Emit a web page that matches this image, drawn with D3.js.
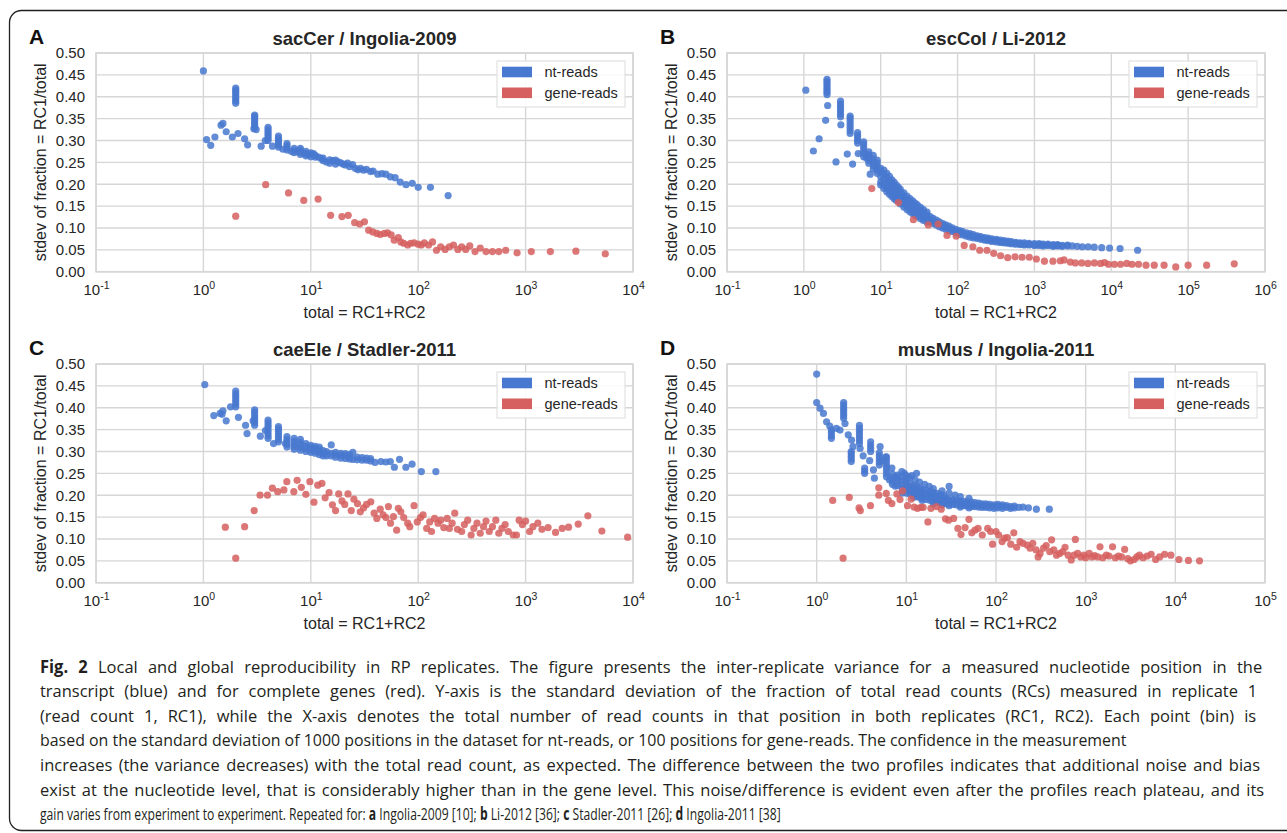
<!DOCTYPE html>
<html><head><meta charset="utf-8">
<script src="https://cdn.jsdelivr.net/npm/d3@7"></script>
<style>body{margin:0;background:#fff;} svg{display:block;}</style>
</head><body><svg id="fig" width="1287" height="833"></svg>
<script>
// ---------------- DATA ----------------
const panelLetters = ["A", "B", "C", "D"];
const panelTitles = ["sacCer / Ingolia-2009", "escCol / Li-2012", "caeEle / Stadler-2011", "musMus / Ingolia-2011"];
const xMaxExp = [4, 6, 4, 5];
const yTicks = [0, 0.05, 0.10, 0.15, 0.20, 0.25, 0.30, 0.35, 0.40, 0.45, 0.50];
const seriesNames = ["nt-reads", "gene-reads"];
const yLabel = "stdev of fraction = RC1/total";
const xLabel = "total = RC1+RC2";

const aNt = [[1.0,.459],[1.07,.302],[1.17,.289],[1.28,.308],[1.46,.335],[1.52,.339],[1.63,.32],[1.86,.308],
[2,.385],[2,.39],[2,.395],[2,.40],[2,.405],[2,.41],[2,.415],[2,.42],
[2.1,.316],[2.42,.304],[2.58,.29],
[3,.33],[3,.335],[3,.34],[3,.345],[3,.35],[3,.355],[3,.358],[2.95,.327],[3.1,.325],
[3.45,.287],[3.77,.30],
[4,.30],[4,.305],[4,.31],[4,.315],[4,.32],[4,.325],[4,.33],[4.4,.287],
[5,.285],[5,.29],[5,.295],[5,.30],[5,.305],[5,.31],[5.5,.28],
[6,.278],[6,.283],[6,.288],[6,.293],[6.6,.275],
[7,.272],[7,.277],[7,.282],[7.5,.275],
[8,.268],[8,.273],[8,.278],[8,.282],[8.7,.27],
[9,.265],[9,.27],[9,.275],[9.5,.268],
[10,.263],[10,.268],[10,.272],[10.6,.27],[11,.262],[11,.266],[11.8,.262],[12.5,.259],[13,.254],[13,.26],[14,.251],
[15,.256],[15,.248],[16,.254],[17,.255],[17,.246],[18,.251],[19,.249],[20,.246],[21,.244],[22,.248],[23,.24],
[24.5,.245],[26,.236],[27.5,.233],[29,.236],[31,.232],[33,.234],[36,.229],[38,.23],[42,.223],[46,.224],[50,.223],
[55,.217],[61,.215],[68,.205],[77,.199],[88,.202],[100,.193],[130,.193],[190,.174]];
const aGene = [[2,.127],[3.8,.199],[6.2,.18],[8.6,.163],[11.7,.166],[15.3,.129],[19.5,.126],[22.3,.129],[25.6,.112],
[28.5,.109],[31.6,.114],[34.6,.095],[37.8,.091],[41.2,.0875],[44.3,.085],[48.4,.0875],[51.9,.089],[56,.084],[59.8,.072],
[65.3,.078],[68.9,.068],[73.3,.065],[79.8,.061],[85,.065],[91.5,.066],[100,.063],[107,.061],[114,.066],[125,.061],
[136,.068],[148,.049],[162,.057],[178,.051],[195,.057],[213,.061],[234,.051],[254,.057],[277,.051],[302,.059],
[338,.046],[378,.054],[428,.046],[491,.046],[563,.046],[653,.049],[833,.043],[1130,.046],[1700,.046],[2940,.047],[5520,.041]];

const bNt = [[1.06,.415],[1.33,.276],[1.58,.304],[1.92,.346],
[2,.405],[2,.41],[2,.415],[2,.42],[2,.425],[2,.43],[2,.435],[2,.44],[2.04,.38],[2.62,.251],
[3,.354],[3,.36],[3,.366],[3,.372],[3,.378],[3,.384],[3,.39],[3.03,.336],[3.67,.269],
[4,.316],[4,.323],[4,.33],[4,.337],[4,.344],[4,.351],[4,.356],[4.31,.246],
[5,.294],[5,.30],[5,.306],[5,.312],[5,.318],[5.1,.27],
[6,.263],[6,.27],[6,.277],[6,.284],[6,.291],[6,.297],[6.5,.26],
[7,.248],[7,.255],[7,.262],[7,.268],[7,.274],[7.3,.223],
[8,.235],[8,.242],[8,.25],[8,.258],[8,.266],
[9,.225],[9,.232],[9,.24],[9,.248],[9,.255],
[10,.217],[10,.205],[10,.228],[10,.236],[10,.198],[11,.21],[11,.198],[11,.222],[11,.232],[11,.19],
[12,.203],[12,.192],[12,.214],[12,.225],[12,.183],[13,.196],[13,.186],[13,.207],[13,.218],[13,.177],
[14,.19],[14,.18],[14,.2],[14,.21],[14,.172],[15,.185],[15,.175],[15,.195],[15,.204],[15,.167],
[16,.18],[16,.17],[16,.19],[16,.198],[16,.163],[17,.175],[17,.166],[17,.185],[17,.193],
[18,.17],[18,.162],[18,.18],[18,.188],[18,.155],[19,.167],[19,.158],[19,.176],[20,.163],[20,.155],[20,.172],[20,.18],[20,.148],
[22,.157],[22,.149],[22,.166],[22,.173],[22,.142],[24,.152],[24,.144],[24,.16],[24,.167],[24,.137],
[26,.147],[26,.14],[26,.155],[26,.162],[26,.133],[28,.143],[28,.136],[28,.151],[28,.157],[28,.129],
[30,.139],[30,.132],[30,.147],[30,.153],[30,.126],[33,.134],[33,.127],[33,.141],[33,.147],[33,.121],
[36,.129],[36,.123],[36,.136],[36,.142],[36,.117],[40,.124],[40,.118],[40,.13],[40,.136],[40,.113],
[44,.12],[44,.114],[44,.126],[48,.116],[48,.11],[48,.122],[53,.112],[53,.107],[53,.118],[58,.108],[58,.103],[58,.114],
[64,.105],[64,.1],[64,.11],[70,.102],[70,.097],[70,.107],[77,.099],[77,.094],[77,.104],[85,.096],[85,.092],[85,.1],
[95,.093],[95,.089],[95,.097],[105,.09],[105,.086],[105,.094],[115,.088],[115,.084],[115,.092],[130,.085],[130,.081],[130,.089],
[145,.083],[145,.079],[145,.087],[160,.081],[160,.077],[160,.085],[180,.079],[180,.076],[180,.082],[200,.077],[200,.074],[200,.08],
[225,.075],[225,.072],[225,.078],[250,.074],[250,.071],[250,.077],[280,.072],[280,.069],[280,.075],[320,.071],[320,.068],[320,.074],
[360,.069],[360,.067],[360,.072],[400,.068],[400,.066],[400,.071],[450,.067],[450,.065],[450,.07],[500,.066],[500,.064],[500,.069],
[570,.065],[570,.063],[570,.067],[650,.064],[650,.062],[650,.066],[740,.063],[740,.061],[740,.066],[850,.063],[850,.061],[850,.065],
[1000,.062],[1000,.06],[1000,.064],[1150,.062],[1150,.06],[1150,.064],[1300,.061],[1300,.059],[1300,.063],[1500,.061],[1500,.06],[1500,.063],
[1750,.06],[1750,.058],[1750,.062],[2000,.06],[2000,.059],[2000,.062],[2300,.06],[2300,.058],[2700,.059],[2700,.061],[3100,.059],
[3600,.058],[4200,.057],[5000,.057],[6000,.056],[7500,.055],[9500,.054],[13000,.053],[22000,.049]];
const bGene = [[7.65,.19],[17,.158],[26.6,.119],[41.5,.107],[56,.109],[72.9,.083],[96,.081],[122,.06],[158,.057],[194,.049],
[241,.049],[295,.042],[363,.0365],[449,.032],[558,.034],[690,.033],[857,.033],[1060,.029],[1350,.024],[1740,.024],[2170,.025],
[2430,.027],[2930,.022],[3410,.02],[4120,.02],[4970,.019],[6030,.02],[7250,.019],[8170,.021],[9200,.017],[11000,.017],[13200,.017],
[15900,.019],[18600,.017],[22600,.017],[28300,.015],[36200,.015],[48600,.015],[69000,.011],[100000,.015],[174000,.015],[398000,.018]];

const cNt = [[1.03,.453],[1.25,.382],[1.43,.387],[1.49,.385],[1.52,.393],[1.63,.37],[1.79,.402],
[2,.402],[2,.408],[2,.414],[2,.42],[2,.426],[2,.432],[2,.438],[2.12,.378],[2.47,.36],[2.55,.341],
[3,.36],[3,.366],[3,.372],[3,.378],[3,.384],[3,.39],[3,.395],[2.9,.37],[3.39,.335],[3.78,.348],
[4,.33],[4,.336],[4,.342],[4,.348],[4,.354],[4,.36],[4,.366],[4,.372],[4.5,.318],
[5,.322],[5,.328],[5,.334],[5,.34],[5,.346],[5,.352],[5,.357],[5.8,.318],
[6,.31],[6,.316],[6,.322],[6,.328],[6,.334],[7,.305],[7,.311],[7,.317],[7,.323],[7,.33],
[8,.303],[8,.309],[8,.315],[8,.321],[8,.328],[9,.3],[9,.306],[9,.312],[9,.318],
[10,.298],[10,.303],[10,.309],[10,.314],[11,.296],[11,.301],[11,.307],[11,.312],[12,.293],[12,.299],[12,.305],[12,.31],
[13,.29],[13,.296],[13,.302],[14,.29],[14,.295],[14,.3],[15.5,.315],[15.5,.296],[15.5,.29],[17,.287],[17,.293],[17,.298],
[19,.285],[19,.291],[19,.296],[21,.284],[21,.29],[21,.295],[23,.283],[23,.288],[23,.293],[24.6,.298],[24.6,.282],
[27,.281],[27,.287],[30,.28],[30,.286],[33,.28],[33,.285],[36,.278],[36,.284],[39.6,.275],[45,.277],[50,.276],[55,.277],
[60,.264],[67,.282],[76.8,.264],[87.7,.271],[107,.254],[146,.254]];
const cGene = [[1.6,.127],[2,.056],[2.42,.128],[2.97,.165],[3.37,.2],[3.95,.2],[4.39,.216],[4.92,.208],[5.62,.212],[5.98,.231],
[6.95,.208],[7.46,.234],[8.16,.218],[9,.202],[9.8,.231],[10.7,.184],[11.6,.223],[12.7,.227],[13.6,.194],[14.8,.206],[15.9,.178],
[17,.165],[18.2,.203],[19.5,.187],[20.7,.179],[22.2,.203],[23.8,.165],[25.2,.191],[27.2,.181],[28.9,.162],[31,.171],[33,.179],
[36.2,.185],[38.9,.159],[41.2,.147],[44.3,.168],[47.1,.155],[50.1,.149],[52.8,.174],[55.2,.136],[58.8,.151],[63,.12],[65.3,.17],
[68.9,.162],[73.3,.149],[79.8,.136],[83.5,.128],[91.5,.176],[98,.139],[105,.149],[111,.155],[120,.124],[128,.139],[133,.117],
[142,.147],[153,.136],[162,.143],[173,.126],[186,.147],[195,.124],[207,.136],[219,.159],[232,.122],[254,.117],[269,.133],[289,.143],
[311,.109],[330,.124],[353,.136],[378,.113],[406,.128],[428,.141],[459,.117],[491,.128],[528,.143],[563,.113],[602,.124],[645,.133],
[690,.117],[767,.109],[823,.109],[871,.143],[933,.133],[1000,.141],[1090,.117],[1170,.128],[1300,.136],[1420,.122],[1620,.126],
[1900,.115],[2190,.124],[2510,.127],[3090,.134],[3800,.153],[5130,.118],[8910,.104]];

const dNt = [[1.0,.477],[1.0,.412],[1.09,.399],[1.19,.387],[1.29,.368],[1.4,.358],[1.46,.349],[1.46,.343],[1.46,.336],[1.46,.33],
[1.66,.353],[1.82,.349],[2,.376],[2,.382],[2,.388],[2,.394],[2,.4],[2,.406],[2,.412],[2.07,.364],[2.25,.338],[2.45,.326],
[2.43,.277],[2.43,.283],[2.43,.289],[2.43,.295],[2.43,.3],[2.54,.311],
[3,.318],[3,.325],[3,.332],[3,.339],[3,.346],[3,.353],[3,.36],[3.05,.307],[3.3,.29],[3.43,.25],[3.43,.256],[3.43,.262],
[4,.3],[4,.307],[4,.314],[4,.322],[3.9,.279],[4.3,.258],[4.4,.239],
[5,.269],[5,.276],[5,.283],[5,.29],[5,.297],[5.1,.311],[5.4,.279],[5.9,.287],
[6,.242],[6,.25],[6,.258],[6,.265],[6,.272],[6,.28],[6,.288],[6.5,.235],[6.9,.262],[7,.225],[7,.232],[7,.24],[7,.248],[7.5,.221],[7.8,.242],
[8,.23],[8,.238],[8,.246],[8,.222],[8.9,.254],[9,.215],[9,.224],[9,.233],[9,.241],[9,.205],[9.5,.25],
[10,.205],[10,.212],[10,.22],[10,.228],[10,.236],[10,.245],[11,.203],[11,.21],[11,.218],[11,.226],[11,.24],[11.5,.245],
[12,.2],[12,.207],[12,.215],[12,.222],[12,.195],[12.5,.235],[13,.197],[13,.205],[13,.212],[13,.25],[13,.22],
[14,.195],[14,.202],[14,.209],[14,.216],[14,.23],[15,.193],[15,.2],[15,.207],[15,.214],[15,.188],
[16,.225],[16.8,.19],[16.8,.197],[16.8,.204],[16.8,.211],[18,.22],[18.5,.188],[18.5,.195],[18.5,.202],[18.5,.209],
[20,.186],[20,.193],[20,.2],[20,.206],[20,.215],[20,.18],[22,.185],[22,.191],[22,.197],[22,.204],[24,.183],[24,.189],[24,.195],[24,.201],
[25,.21],[25,.178],[26,.182],[26,.188],[26,.194],[26,.2],[28,.181],[28,.186],[28,.192],[30,.18],[30,.185],[30,.19],[30,.22],[30,.205],[30,.176],
[33,.179],[33,.184],[33,.19],[35,.2],[36,.178],[36,.183],[36,.188],[40,.177],[40,.182],[40,.187],[40,.197],[40,.173],
[44,.176],[44,.181],[44,.186],[48,.175],[48,.18],[48,.185],[50,.193],[50,.171],[53,.174],[53,.179],[53,.184],
[58,.174],[58,.178],[58,.183],[64,.173],[64,.177],[64,.182],[70,.172],[70,.176],[70,.18],[77,.172],[77,.176],[77,.18],
[85,.171],[85,.175],[85,.179],[95,.17],[95,.174],[95,.178],[105,.171],[105,.175],[105,.179],[118,.17],[118,.174],[118,.178],
[131,.172],[131,.176],[145,.17],[145,.174],[160,.171],[160,.175],[180,.172],[200,.173],[230,.171],[282,.168],[393,.168]];
const dGene = [[1.51,.188],[1.97,.056],[2.31,.195],[2.97,.171],[3.07,.165],[3.98,.176],[4.93,.217],[4.93,.2],[5.97,.204],[6.3,.188],
[6.9,.181],[7.85,.203],[8.5,.19],[9.1,.21],[10.3,.176],[11.3,.191],[12.2,.173],[13.3,.17],[14.5,.172],[15.4,.172],[17.4,.139],
[18.8,.17],[21.6,.174],[24.5,.168],[27.3,.146],[29.6,.143],[33.7,.147],[37.6,.124],[40.7,.11],[45.2,.126],[49.9,.145],[53.7,.114],
[58.2,.12],[63.1,.124],[70.3,.109],[80.8,.124],[87,.117],[91.5,.088],[100,.117],[107,.109],[117,.094],[125,.102],[134,.103],
[146,.088],[158,.114],[170,.081],[185,.094],[200,.09],[223,.086],[240,.079],[257,.09],[280,.075],[295,.059],[310,.067],[339,.079],
[363,.085],[398,.071],[417,.098],[441,.075],[473,.063],[512,.067],[556,.071],[589,.081],[638,.063],[690,.052],[742,.063],[767,.099],
[813,.067],[881,.059],[955,.063],[1000,.057],[1096,.067],[1175,.059],[1260,.062],[1365,.059],[1445,.082],[1550,.057],[1700,.063],
[1820,.061],[1995,.082],[2140,.057],[2320,.061],[2510,.059],[2720,.076],[2950,.055],[3160,.05],[3470,.053],[3720,.059],[3980,.063],
[4370,.057],[4840,.061],[5370,.065],[6030,.053],[6680,.059],[7590,.065],[8910,.063],[10960,.053],[14000,.051],[18600,.05]];

const captionLines = [
  [["b","Fig. 2"],["n"," Local and global reproducibility in RP replicates. The figure presents the inter-replicate variance for a measured nucleotide position in the"]],
  [["n","transcript (blue) and for complete genes (red). Y-axis is the standard deviation of the fraction of total read counts (RCs) measured in replicate 1"]],
  [["n","(read count 1, RC1), while the X-axis denotes the total number of read counts in that position in both replicates (RC1, RC2). Each point (bin) is"]],
  [["n","based on the standard deviation of 1000 positions in the dataset for nt-reads, or 100 positions for gene-reads. The confidence in the measurement"]],
  [["n","increases (the variance decreases) with the total read count, as expected. The difference between the two profiles indicates that additional noise and bias"]],
  [["n","exist at the nucleotide level, that is considerably higher than in the gene level. This noise/difference is evident even after the profiles reach plateau, and its"]],
  [["n","gain varies from experiment to experiment. Repeated for: "],["b","a"],["n"," Ingolia-2009 [10]; "],["b","b"],["n"," Li-2012 [36]; "],["b","c"],["n"," Stadler-2011 [26]; "],["b","d"],["n"," Ingolia-2011 [38]"]]
];

// ---------------- DRAWING ----------------
const BLUE = "#4878cf", RED = "#d65f5f", GRID = "#d6d6d6", TXT = "#262626";
const FONT = "'Liberation Sans', Arial, Helvetica, sans-serif";
const svg = d3.select("#fig");

svg.append("rect").attr("x", 9.5).attr("y", 10.5).attr("width", 1320).attr("height", 820).attr("rx", 12)
  .attr("fill", "none").attr("stroke", "#231f20").attr("stroke-width", 1.3);

const boxes = [{l:96,r:633,t:53,b:271.7},{l:727,r:1265,t:53,b:271.7},{l:96,r:633,t:364,b:582.7},{l:727,r:1265,t:364,b:582.7}];
const panelData = [[aNt, aGene], [bNt, bGene], [cNt, cGene], [dNt, dGene]];
const colors = [BLUE, RED];

panelData.forEach((series, i) => {
  const bx = boxes[i];
  const x = d3.scaleLog().domain([0.1, Math.pow(10, xMaxExp[i])]).range([bx.l, bx.r]);
  const y = d3.scaleLinear().domain([0, 0.5]).range([bx.b, bx.t]);
  const g = svg.append("g");
  const decades = d3.range(-1, xMaxExp[i] + 1).map(e => Math.pow(10, e));

  g.append("g").selectAll("line").data(decades).join("line")
    .attr("x1", d => x(d)).attr("x2", d => x(d)).attr("y1", bx.t).attr("y2", bx.b)
    .attr("stroke", GRID).attr("stroke-width", 1.4);
  g.append("g").selectAll("line").data(yTicks).join("line")
    .attr("x1", bx.l).attr("x2", bx.r).attr("y1", d => y(d)).attr("y2", d => y(d))
    .attr("stroke", GRID).attr("stroke-width", 1.4);
  g.append("rect").attr("x", bx.l).attr("y", bx.t).attr("width", bx.r - bx.l).attr("height", bx.b - bx.t)
    .attr("fill", "none").attr("stroke", GRID).attr("stroke-width", 1.6);

  const ya = g.append("g").attr("transform", `translate(${bx.l},0)`)
    .call(d3.axisLeft(y).tickValues(yTicks).tickSize(0).tickPadding(11).tickFormat(d3.format(".2f")));
  ya.select(".domain").remove();
  ya.attr("font-family", FONT).attr("font-size", 15);
  ya.selectAll("text").attr("fill", TXT);

  const xa = g.append("g").attr("transform", `translate(0,${bx.b})`)
    .call(d3.axisBottom(x).tickValues(decades).tickSize(0).tickPadding(12.4).tickFormat(() => ""));
  xa.select(".domain").remove();
  xa.attr("font-family", FONT).attr("font-size", 15);
  xa.selectAll(".tick text").attr("fill", TXT).each(function(d) {
    const t = d3.select(this);
    t.append("tspan").text("10");
    t.append("tspan").attr("dy", "-0.5em").attr("font-size", "10.5px").text(String(Math.round(Math.log10(d))));
  });

  series.forEach((pts, k) => {
    g.append("g").selectAll("circle").data(pts).join("circle")
      .attr("cx", d => x(d[0])).attr("cy", d => y(d[1])).attr("r", 3.6)
      .attr("fill", colors[k]).attr("fill-opacity", 0.85);
  });

  g.append("text").attr("x", (bx.l + bx.r) / 2).attr("y", bx.t - 8).attr("text-anchor", "middle")
    .attr("font-family", FONT).attr("font-weight", "bold").attr("font-size", 18.5).attr("fill", TXT).text(panelTitles[i]);
  g.append("text").attr("x", bx.l - 67).attr("y", bx.t - 9.5)
    .attr("font-family", FONT).attr("font-weight", "bold").attr("font-size", 21).attr("fill", "#111").text(panelLetters[i]);
  g.append("text").attr("transform", `translate(${bx.l - 56},${(bx.t + bx.b) / 2}) rotate(-90)`).attr("dy", "0.35em")
    .attr("text-anchor", "middle").attr("font-family", FONT).attr("font-size", 16).attr("fill", TXT).text(yLabel);
  g.append("text").attr("x", (bx.l + bx.r) / 2).attr("y", bx.b + 46).attr("text-anchor", "middle")
    .attr("font-family", FONT).attr("font-size", 16).attr("fill", TXT).text(xLabel);

  const lx = bx.r - 8 - 128, ly = bx.t + 8;
  const lg = g.append("g").attr("transform", `translate(${lx},${ly})`);
  lg.append("rect").attr("width", 128).attr("height", 46).attr("fill", "#fff").attr("fill-opacity", 0.85)
    .attr("stroke", "#dcdcdc").attr("stroke-width", 1);
  seriesNames.forEach((nm, k) => {
    lg.append("rect").attr("x", 5).attr("y", 5.7 + k * 20.8).attr("width", 30).attr("height", 10.6).attr("fill", colors[k]);
    lg.append("text").attr("x", 47.5).attr("y", 16 + k * 20.8).attr("font-family", FONT).attr("font-size", 14.5)
      .attr("fill", TXT).text(nm);
  });
});

// caption: one common horizontal squeeze, justified lines filled by word spacing,
// lines that would overflow are squeezed a little more
const lineEnds = [1263, 1258, 1257, 1127, 1261, 1265, 781];
const capX = 40, capY0 = 672.5, capDy = 24.6;
const cap = svg.append("g").attr("font-family", "'Open Sans', 'Noto Sans', sans-serif").attr("font-size", 17).attr("fill", "#231f20");
const capTexts = captionLines.map((parts, i) => {
  const t = cap.append("text").attr("x", 0).attr("y", 0).attr("transform", `translate(${capX},${capY0 + i * capDy})`);
  parts.forEach(p => t.append("tspan").attr("font-weight", p[0] === "b" ? "bold" : "normal").text(p[1]));
  return t;
});
const widths = capTexts.map(t => t.node().getComputedTextLength());
const ratios = [0, 1, 2, 4, 5].map(i => (lineEnds[i] - capX) / widths[i]).sort((a, b) => a - b);
const baseSqueeze = Math.min(0.97, ratios[0]);
capTexts.forEach((t, i) => {
  const target = lineEnds[i] - capX;
  const str = captionLines[i].map(p => p[1]).join("");
  const nSp = (str.match(/ /g) || []).length;
  let s = baseSqueeze;
  if (widths[i] * s > target) s = target / widths[i];
  const extra = target / s - widths[i];
  if (i !== 6 && extra > 0 && nSp > 0) t.attr("word-spacing", extra / nSp);
  t.attr("transform", `translate(${capX},${capY0 + i * capDy}) scale(${s},1)`);
});
</script></body></html>
